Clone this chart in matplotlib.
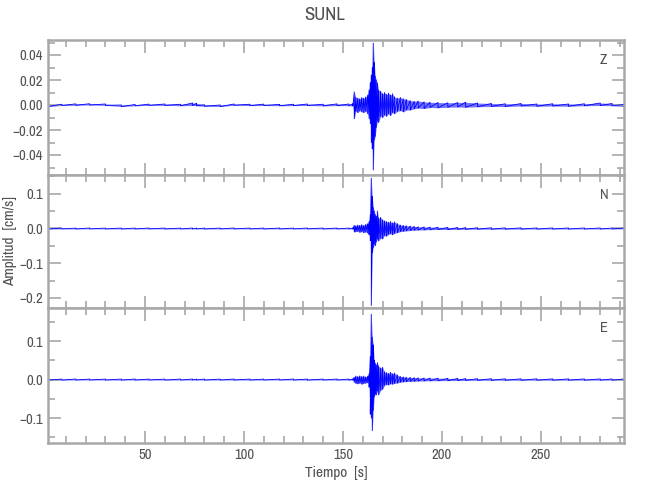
import numpy as np
import matplotlib
matplotlib.use('Agg')
import matplotlib.pyplot as plt
from matplotlib.ticker import MultipleLocator, FuncFormatter
from matplotlib import font_manager

# buscar una fuente estrecha si existe
nombres = sorted({f.name for f in font_manager.fontManager.ttflist})
estrechas = [n for n in nombres if 'Narrow' in n or 'Condensed' in n]
plt.rcParams['font.family'] = estrechas[:1] + ['DejaVu Sans']
plt.rcParams['font.stretch'] = 'condensed'

# tiempos donde se leyeron los extremos (s)
tiempo = [1, 8, 15, 22, 30, 38, 45, 52, 60, 68,
          74, 76, 80, 88, 95, 103, 110, 118, 125, 132,
          140, 147, 153, 155, 155.7, 156.5, 157.5, 158.5, 159.5, 160.5,
          161.5, 162.5, 163.2, 163.8, 164.3, 164.8, 165.3, 165.8, 166.3, 166.8,
          167.4, 168, 169, 170, 171, 172, 173, 174, 175, 176,
          177.5, 179, 180.5, 182, 184, 186, 188, 191, 194, 198,
          203, 208, 212, 218, 225, 232, 240, 248, 256, 264,
          272, 280, 286, 292]

# componente Z: maximos y minimos (cm/s)
z_max = [0.0002, 0.0006, 0.0009, 0.0010, 0.0008, 0.0000, 0.0004, 0.0007, 0.0008, 0.0006,
         0.0016, 0.0014, 0.0002, 0.0000, 0.0008, 0.0006, 0.0007, 0.0005, 0.0006, 0.0008,
         0.0006, 0.0009, 0.0008, 0.0010, 0.0105, 0.0060, 0.0055, 0.0050, 0.0060, 0.0055,
         0.0065, 0.0080, 0.0120, 0.0180, 0.0240, 0.0300, 0.0495, 0.0340, 0.0230, 0.0200,
         0.0175, 0.0120, 0.0110, 0.0090, 0.0100, 0.0085, 0.0095, 0.0080, 0.0090, 0.0065,
         0.0055, 0.0060, 0.0050, 0.0045, 0.0035, 0.0030, 0.0032, 0.0025, 0.0022, 0.0020,
         0.0018, 0.0020, 0.0022, 0.0016, 0.0012, 0.0010, 0.0012, 0.0008, 0.0010, 0.0008,
         0.0010, 0.0016, 0.0012, 0.0004]
z_min = [-0.0012, -0.0004, -0.0002, 0.0000, -0.0003, -0.0012, -0.0006, -0.0003, -0.0003, -0.0006,
         -0.0004, -0.0006, -0.0010, -0.0012, -0.0002, -0.0005, -0.0004, -0.0006, -0.0005, -0.0004,
         -0.0007, -0.0005, -0.0006, -0.0008, -0.0110, -0.0050, -0.0060, -0.0045, -0.0055, -0.0060,
         -0.0050, -0.0070, -0.0110, -0.0150, -0.0300, -0.0350, -0.0520, -0.0280, -0.0250, -0.0180,
         -0.0130, -0.0140, -0.0090, -0.0100, -0.0080, -0.0090, -0.0070, -0.0085, -0.0060, -0.0070,
         -0.0050, -0.0045, -0.0055, -0.0040, -0.0040, -0.0030, -0.0025, -0.0028, -0.0020, -0.0022,
         -0.0018, -0.0016, -0.0018, -0.0014, -0.0012, -0.0012, -0.0008, -0.0010, -0.0008, -0.0010,
         -0.0006, -0.0004, -0.0006, -0.0012]

# componente N
n_max = [0.0010, 0.0012, 0.0011, 0.0012, 0.0010, 0.0012, 0.0011, 0.0013, 0.0012, 0.0011,
         0.0013, 0.0012, 0.0011, 0.0012, 0.0013, 0.0011, 0.0012, 0.0012, 0.0011, 0.0013,
         0.0012, 0.0013, 0.0012, 0.0015, 0.0090, 0.0080, 0.0100, 0.0090, 0.0110, 0.0090,
         0.0120, 0.0140, 0.0200, 0.0400, 0.1450, 0.0920, 0.0600, 0.0500, 0.0400, 0.0350,
         0.0500, 0.0300, 0.0320, 0.0250, 0.0220, 0.0200, 0.0180, 0.0200, 0.0160, 0.0190,
         0.0140, 0.0100, 0.0090, 0.0080, 0.0070, 0.0060, 0.0050, 0.0045, 0.0040, 0.0035,
         0.0030, 0.0028, 0.0025, 0.0022, 0.0020, 0.0018, 0.0018, 0.0016, 0.0016, 0.0015,
         0.0015, 0.0014, 0.0013, 0.0012]
n_min = [-0.0015, -0.0012, -0.0013, -0.0011, -0.0012, -0.0013, -0.0012, -0.0011, -0.0012, -0.0013,
         -0.0012, -0.0011, -0.0013, -0.0012, -0.0011, -0.0012, -0.0013, -0.0012, -0.0012, -0.0011,
         -0.0013, -0.0012, -0.0012, -0.0015, -0.0100, -0.0090, -0.0080, -0.0110, -0.0090, -0.0120,
         -0.0100, -0.0130, -0.0180, -0.0350, -0.2220, -0.0700, -0.0550, -0.0450, -0.0500, -0.0380,
         -0.0300, -0.0360, -0.0280, -0.0300, -0.0200, -0.0220, -0.0170, -0.0150, -0.0180, -0.0140,
         -0.0120, -0.0090, -0.0080, -0.0070, -0.0060, -0.0050, -0.0045, -0.0040, -0.0035, -0.0030,
         -0.0030, -0.0025, -0.0025, -0.0020, -0.0020, -0.0018, -0.0017, -0.0016, -0.0015, -0.0015,
         -0.0014, -0.0014, -0.0013, -0.0012]

# componente E
e_max = [0.0012, 0.0011, 0.0013, 0.0012, 0.0011, 0.0012, 0.0013, 0.0012, 0.0011, 0.0012,
         0.0013, 0.0012, 0.0012, 0.0011, 0.0013, 0.0012, 0.0011, 0.0012, 0.0013, 0.0012,
         0.0012, 0.0013, 0.0012, 0.0015, 0.0060, 0.0090, 0.0080, 0.0095, 0.0080, 0.0090,
         0.0070, 0.0090, 0.0150, 0.0600, 0.1700, 0.1100, 0.0900, 0.0500, 0.0420, 0.0380,
         0.0440, 0.0350, 0.0300, 0.0320, 0.0200, 0.0180, 0.0160, 0.0190, 0.0150, 0.0170,
         0.0120, 0.0080, 0.0070, 0.0060, 0.0055, 0.0050, 0.0045, 0.0040, 0.0038, 0.0035,
         0.0030, 0.0028, 0.0025, 0.0022, 0.0020, 0.0019, 0.0018, 0.0018, 0.0017, 0.0017,
         0.0016, 0.0016, 0.0015, 0.0014]
e_min = [-0.0012, -0.0013, -0.0012, -0.0011, -0.0012, -0.0013, -0.0012, -0.0011, -0.0013, -0.0012,
         -0.0012, -0.0011, -0.0013, -0.0012, -0.0012, -0.0013, -0.0012, -0.0011, -0.0012, -0.0013,
         -0.0012, -0.0012, -0.0013, -0.0015, -0.0070, -0.0100, -0.0110, -0.0090, -0.0120, -0.0100,
         -0.0090, -0.0080, -0.0200, -0.0900, -0.1000, -0.1330, -0.0800, -0.0450, -0.0380, -0.0400,
         -0.0300, -0.0400, -0.0280, -0.0250, -0.0150, -0.0130, -0.0140, -0.0110, -0.0120, -0.0100,
         -0.0090, -0.0070, -0.0060, -0.0055, -0.0050, -0.0045, -0.0040, -0.0035, -0.0032, -0.0030,
         -0.0028, -0.0025, -0.0022, -0.0020, -0.0019, -0.0018, -0.0018, -0.0017, -0.0017, -0.0016,
         -0.0016, -0.0015, -0.0015, -0.0014]

componentes = ['Z', 'N', 'E']
maximos = [z_max, n_max, e_max]
minimos = [z_min, n_min, e_min]

gris = '#a8a8a8'
texto = '#505050'

fig = plt.figure(figsize=(6.5, 5), dpi=100)

# [izq, abajo, ancho, alto], limites y, paso mayor, paso menor, decimales
paneles = [
    ([0.074, 0.650, 0.886, 0.270], (-0.056, 0.052), 0.02, 0.01, 2),
    ([0.074, 0.384, 0.886, 0.266], (-0.229, 0.154), 0.1, 0.05, 1),
    ([0.074, 0.114, 0.886, 0.270], (-0.165, 0.186), 0.1, 0.05, 1),
]


def formato(dec):
    return FuncFormatter(lambda v, p: f'{v:.{dec}f}'.replace('-', '\u2212'))


t = np.array(tiempo)
for i, (pos, ylim, mayor, menor, dec) in enumerate(paneles):
    ax = fig.add_axes(pos)
    # banda entre extremos y traza que alterna maximo/minimo
    ax.fill_between(t, minimos[i], maximos[i], color='#0000ff', alpha=0.55, linewidth=0)
    x = np.repeat(t, 2)
    y = np.column_stack([maximos[i], minimos[i]]).ravel()
    ax.plot(x, y, color='#0000ff', linewidth=0.6)
    ax.set_xlim(1, 292)
    ax.set_ylim(*ylim)
    ax.xaxis.set_major_locator(MultipleLocator(50))
    ax.xaxis.set_minor_locator(MultipleLocator(10))
    ax.yaxis.set_major_locator(MultipleLocator(mayor))
    ax.yaxis.set_minor_locator(MultipleLocator(menor))
    ax.yaxis.set_major_formatter(formato(dec))
    ax.tick_params(which='both', direction='in', top=True, right=True,
                   color=gris, labelcolor=texto, labelsize=10.5, width=1.2)
    ax.tick_params(which='major', length=9)
    ax.tick_params(which='minor', length=5)
    for s in ax.spines.values():
        s.set_color(gris)
        s.set_linewidth(1.8)
    if i < 2:
        ax.tick_params(labelbottom=False)
    else:
        ax.set_xlabel('Tiempo  [s]', fontsize=11, color=texto, labelpad=3)
    if i == 1:
        ax.set_ylabel('Amplitud  [cm/s]', fontsize=11, color=texto, labelpad=2)
    ax.text(0.965, 0.85, componentes[i], transform=ax.transAxes,
            fontsize=10.5, color=texto, ha='center', va='center')

fig.text(0.5, 0.97, 'SUNL', ha='center', va='center', fontsize=13.5, color=texto)

plt.savefig('out.png', dpi=100)
plt.close()
